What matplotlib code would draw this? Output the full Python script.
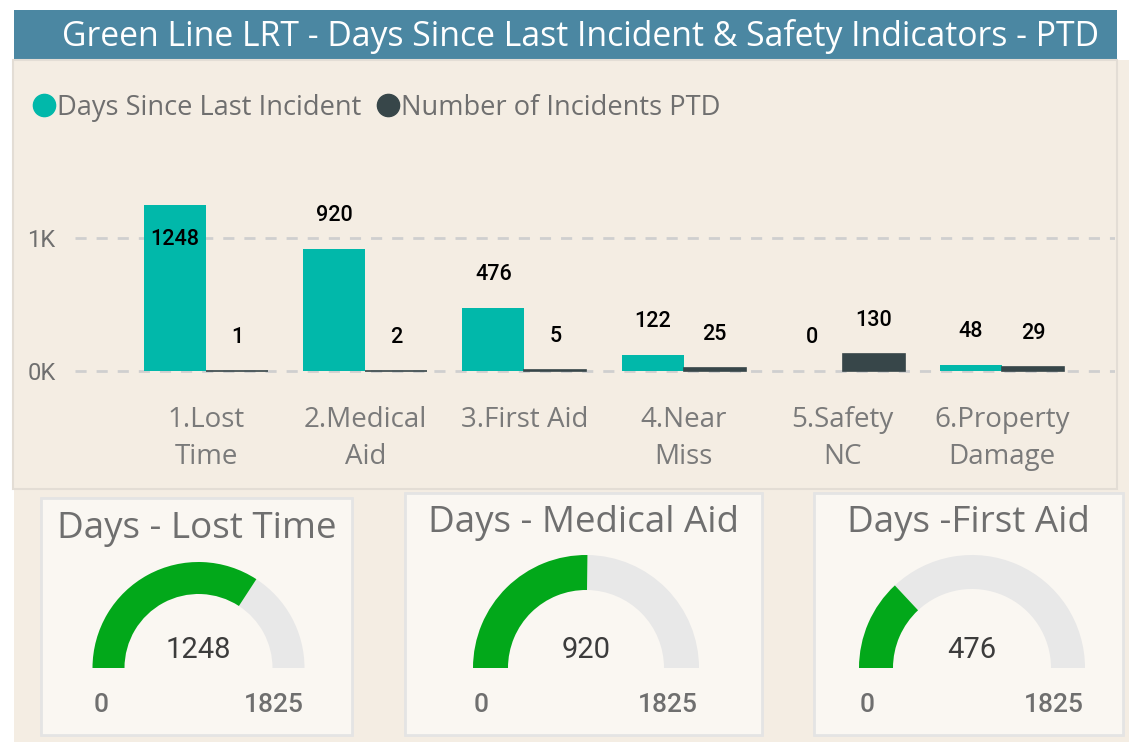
import matplotlib
matplotlib.use("Agg")
import matplotlib.pyplot as plt
from matplotlib.patches import Rectangle, Wedge
from matplotlib.lines import Line2D
import matplotlib.transforms as mtransforms

# ---------------- data ----------------
categories = ["1.Lost\nTime", "2.Medical\nAid", "3.First Aid", "4.Near\nMiss", "5.Safety\nNC", "6.Property\nDamage"]
days_since = [1248, 920, 476, 122, 0, 48]
incidents_ptd = [1, 2, 5, 25, 130, 29]
series_names = ["Days Since Last Incident", "Number of Incidents PTD"]
y_ticks = [0, 1000]
y_tick_labels = ["0K", "1K"]
gauge_titles = ["Days - Lost Time", "Days - Medical Aid", "Days -First Aid"]
gauge_values = [1248, 920, 476]
gauge_min = 0
gauge_max = 1825
title = "Green Line LRT - Days Since Last Incident & Safety Indicators - PTD"

# ---------------- style ----------------
W, H = 1129, 742
TEAL = "#01b8aa"
DARK = "#374649"
BEIGE = "#f4ede3"
CARD = "#faf7f2"
BAR_BLUE = "#4b87a2"
GREEN = "#02a81a"
ARC_GRAY = "#e8e8e8"
TXT_GRAY = "#6f6f6f"
FONT = "Open Sans"
NUMFONT = "Roboto"

def fx(x):
    return x / W

def fy(y):
    return 1 - y / H

def rect_px(x0, y0, x1, y1, **kw):
    return Rectangle((fx(x0), fy(y1)), (x1 - x0) / W, (y1 - y0) / H,
                     transform=fig.transFigure, **kw)

fig = plt.figure(figsize=(W / 100, H / 100), dpi=100, facecolor="white")

# backgrounds
fig.patches.append(rect_px(14, 60, 1129, 742, facecolor=BEIGE, edgecolor="none", zorder=-10))
fig.patches.append(rect_px(14, 10, 1117, 60, facecolor=BAR_BLUE, edgecolor="none", zorder=-9))
fig.patches.append(rect_px(13, 60, 1117, 489, facecolor="none", edgecolor="#e3ddd5", lw=1.5, zorder=-9))
fig.text(fx(580), fy(36), title, color="white", fontsize=24.3, family=FONT,
         ha="center", va="center")

# legend
handles = [Line2D([], [], marker="o", ls="", color=c, markersize=16) for c in (TEAL, DARK)]
leg = fig.legend(handles, series_names, loc="center left", bbox_to_anchor=(fx(3), fy(108)),
                 ncol=2, frameon=False, handletextpad=-0.1, columnspacing=0.35,
                 handlelength=1.2, prop={"family": FONT, "size": 19.6})
for t in leg.get_texts():
    t.set_color(TXT_GRAY)

# ---------------- bar chart ----------------
ax_l, ax_r, ax_t, ax_b = 75, 1115, 160, 380
ax = fig.add_axes([fx(ax_l), fy(ax_b), (ax_r - ax_l) / W, (ax_b - ax_t) / H])
ax.set_facecolor("none")
n = len(categories)
x = list(range(n))
bw = 0.39
ax.bar([i - bw / 2 for i in x], days_since, width=bw, color=TEAL, zorder=3)
ax.bar([i + bw / 2 for i in x], incidents_ptd, width=bw, color=DARK, zorder=3,
       edgecolor=DARK, linewidth=1.2)
ax.set_xlim(-0.823, 5.71)
ax.set_ylim(-67.7, 1586)
ax.set_yticks(y_ticks)
ax.set_yticklabels(y_tick_labels, color=TXT_GRAY, family=NUMFONT, fontsize=17)
ax.tick_params(axis="y", length=0, pad=14)
ax.set_xticks([])
for s in ax.spines.values():
    s.set_visible(False)
for yt in y_ticks:
    ax.axhline(yt, color="#cfcfcf", lw=2, ls=(0, (4, 3.6)), zorder=1)

vmax = max(days_since)
for i in x:
    for val, off in ((days_since[i], -bw / 2), (incidents_ptd[i], bw / 2)):
        inside = val == vmax
        ax.annotate(str(val), (i + off, val), xytext=(0, -25 if inside else 24),
                    textcoords="offset points", ha="center", va="center",
                    fontsize=15.5, family=NUMFONT, fontweight="medium", color="black", zorder=4)

lab_tr = mtransforms.blended_transform_factory(ax.transData, fig.transFigure)
for i, c in zip(x, categories):
    ax.text(i, fy(406), c, transform=lab_tr, ha="center", va="top",
            fontsize=20, family=FONT, color="#7a7a7a", linespacing=1.42)

# ---------------- gauges ----------------
cards = [(41, 498, 352, 735), (405, 493, 762, 735), (814, 493, 1123, 735)]
centers = [(198.5, 668, 106, 32), (586, 668, 113, 35), (972, 668, 113, 34)]
title_y = [529, 523, 523]
for k in range(3):
    x0, y0, x1, y1 = cards[k]
    fig.patches.append(rect_px(x0, y0, x1, y1, facecolor=CARD, edgecolor="#e4e4e4", lw=2, zorder=-5))
    fig.text(fx((x0 + x1) / 2), fy(title_y[k]), gauge_titles[k], ha="center", va="center",
             fontsize=26.5, family=FONT, color=TXT_GRAY)
    cx, cy, r, w = centers[k]
    R = r + 8
    down = 60
    gax = fig.add_axes([fx(cx - R), fy(cy + down), 2 * R / W, (R + down) / H])
    gax.set_xlim(-R, R)
    gax.set_ylim(-down, R)
    gax.axis("off")
    frac = (gauge_values[k] - gauge_min) / (gauge_max - gauge_min)
    ang = 180 - 180 * frac
    gax.add_patch(Wedge((0, 0), r, 0, ang, width=w, facecolor=ARC_GRAY, edgecolor="none"))
    gax.add_patch(Wedge((0, 0), r, ang, 180, width=w, facecolor=GREEN, edgecolor="none"))
    gax.text(0, 18, str(gauge_values[k]), ha="center", va="center", fontsize=21,
             family=NUMFONT, fontweight="normal", color="#3c3c3c")
    gax.text(-r + 1, -37, str(gauge_min), ha="left", va="center", fontsize=19,
             family=NUMFONT, fontweight="medium", color=TXT_GRAY)
    gax.text(r - 1, -37, str(gauge_max), ha="right", va="center", fontsize=19,
             family=NUMFONT, fontweight="medium", color=TXT_GRAY)

fig.savefig("out.png", dpi=100, facecolor="white")
